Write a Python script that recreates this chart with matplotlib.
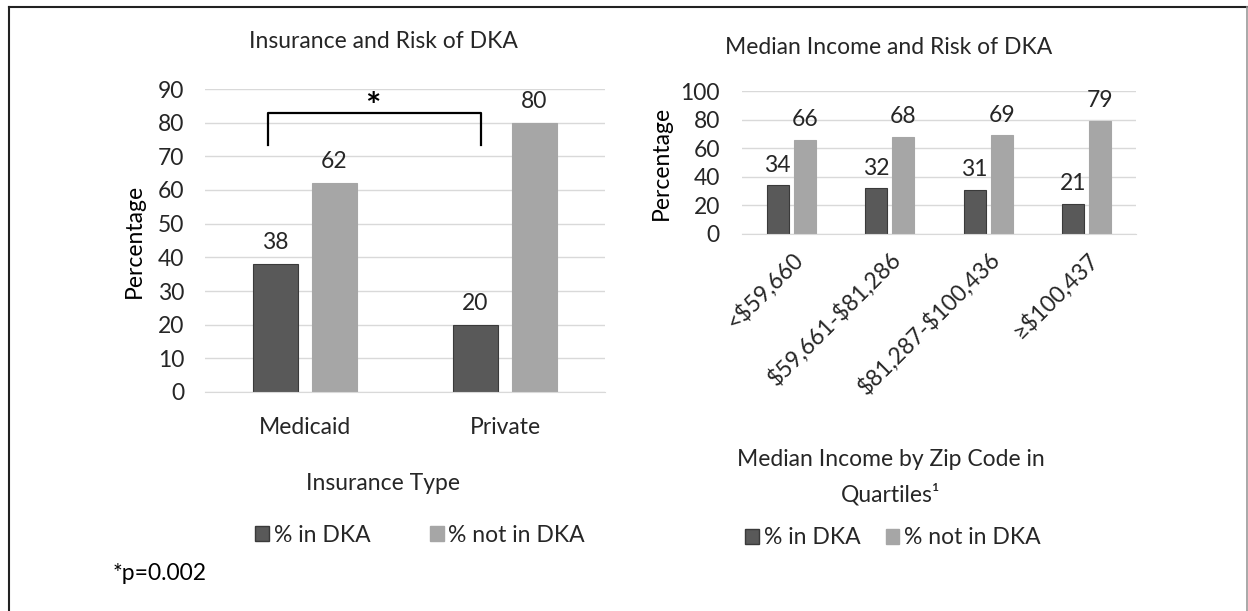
import matplotlib.pyplot as plt
import numpy as np
from matplotlib.lines import Line2D
from matplotlib.patches import Patch

# data
ins_types = ['Medicaid', 'Private']
ins_dka = [38, 20]
ins_not = [62, 80]

income_groups = ['<$59,660', '$59,661-$81,286', '$81,287-$100,436', '≥$100,437']
inc_dka = [34, 32, 31, 21]
inc_not = [66, 68, 69, 79]

DARK = '#595959'
LIGHT = '#a6a6a6'
TXT = '#262626'
GRID = '#d9d9d9'
FONT = ['Lato', 'DejaVu Sans']
FS = 16.5

plt.rcParams['font.family'] = FONT
plt.rcParams['text.color'] = TXT

W, H = 1248, 611
fig = plt.figure(figsize=(W / 100, H / 100), dpi=100)


def px_axes(x0, x1, ytop, ybot):
    return fig.add_axes([x0 / W, (H - ybot) / H, (x1 - x0) / W, (ybot - ytop) / H])


def style(ax, ymax, step, ypad):
    ax.set_ylim(0, ymax)
    ax.set_yticks(np.arange(0, ymax + 1, step))
    ax.yaxis.grid(True, color=GRID, lw=1)
    ax.set_axisbelow(True)
    for s in ['top', 'right', 'left']:
        ax.spines[s].set_visible(False)
    ax.spines['bottom'].set_color(GRID)
    ax.tick_params(axis='both', length=0, labelsize=FS, colors=TXT)
    ax.tick_params(axis='y', pad=ypad)


def draw_bars(ax, n, dka, notdka, w, gap, off):
    x = np.arange(n)
    b1 = ax.bar(x - w / 2 - gap / 2, dka, w, color=DARK, edgecolor='#3a3a3a', lw=0.8)
    b2 = ax.bar(x + w / 2 + gap / 2, notdka, w, color=LIGHT, edgecolor=LIGHT, lw=0.8)
    for bars in (b1, b2):
        for b in bars:
            ax.annotate(f'{b.get_height():.0f}', (b.get_x() + b.get_width() / 2, b.get_height()),
                        xytext=(0, off), textcoords='offset points', ha='center', va='bottom',
                        fontsize=FS, color=TXT)
    ax.set_xlim(-0.5, n - 0.5)
    ax.set_xticks(x)


# left chart: insurance
ax1 = px_axes(205, 605, 89, 392)
style(ax1, 90, 10, 15)
draw_bars(ax1, len(ins_types), ins_dka, ins_not, 0.225, 0.07, 8)
ax1.set_xticklabels(ins_types, fontsize=FS)
ax1.tick_params(axis='x', pad=18)
ax1.set_ylabel('Percentage', fontsize=FS)
ax1.yaxis.set_label_coords(-0.15, 0.5)

# significance bracket
ax1.plot([-0.185, -0.185, 0.88, 0.88], [73.3, 82.8, 82.8, 73.3], color='black', lw=1.6,
         clip_on=False)
ax1.text(0.34, 79.5, '*', ha='center', va='bottom', fontsize=26, fontweight='bold', color='black')

fig.text(383 / W, 1 - 42 / H, 'Insurance and Risk of DKA', ha='center', va='center', fontsize=FS)
fig.text(383 / W, 1 - 484 / H, 'Insurance Type', ha='center', va='center', fontsize=FS)

handles = [Patch(facecolor=DARK, edgecolor='#3a3a3a'), Patch(facecolor=LIGHT, edgecolor=LIGHT)]
labels = ['% in DKA', '% not in DKA']
fig.legend(handles, labels, loc='center', bbox_to_anchor=(420 / W, 1 - 535 / H), ncol=2,
           frameon=False, fontsize=FS, handlelength=0.6, handleheight=0.6, handletextpad=0.2,
           columnspacing=2.6)
fig.text(113 / W, 1 - 574 / H, '*p=0.002', ha='left', va='center', fontsize=FS, color='black')

# right chart: median income
ax2 = px_axes(742, 1136, 91, 234)
style(ax2, 100, 20, 16)
draw_bars(ax2, len(income_groups), inc_dka, inc_not, 0.225, 0.05, 7)
ax2.set_xticklabels([s.replace('$', r'\$') for s in income_groups], fontsize=FS,
                    rotation=45, ha='right', rotation_mode='anchor')
ax2.tick_params(axis='x', pad=10)
ax2.set_ylabel('Percentage', fontsize=FS)
ax2.yaxis.set_label_coords(-0.178, 0.5)

fig.text(889 / W, 1 - 47 / H, 'Median Income and Risk of DKA', ha='center', va='center', fontsize=FS)
fig.text(891 / W, 1 - 460 / H, 'Median Income by Zip Code in', ha='center', va='center', fontsize=FS)
fig.text(891 / W, 1 - 494 / H, 'Quartiles¹', ha='center', va='center', fontsize=FS)
fig.legend(handles, labels, loc='center', bbox_to_anchor=(893 / W, 1 - 538 / H), ncol=2,
           frameon=False, fontsize=FS, handlelength=0.6, handleheight=0.6, handletextpad=0.2,
           columnspacing=1.1)

# outer frame (left, top dark; right light)
fig.add_artist(Line2D([9 / W, 9 / W], [0, 1 - 7 / H], color='#222222', lw=1.5))
fig.add_artist(Line2D([9 / W, 1247 / W], [1 - 7 / H, 1 - 7 / H], color='#222222', lw=1.5))
fig.add_artist(Line2D([1246.5 / W, 1246.5 / W], [0, 1 - 7 / H], color='#999999', lw=1.2))

fig.savefig('out.png', dpi=100, facecolor='white')
